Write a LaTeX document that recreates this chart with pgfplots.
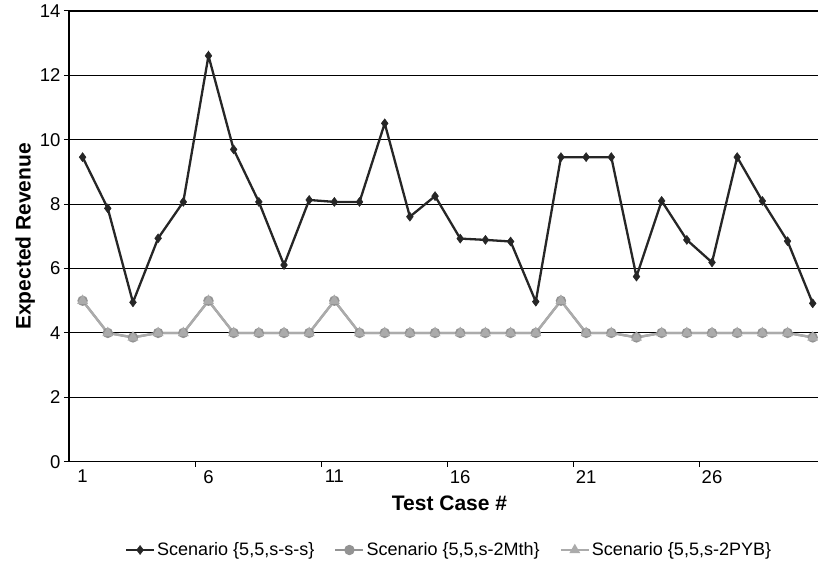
\documentclass[border=0pt]{standalone}
\usepackage{fontspec}
\setmainfont{Liberation Sans}
\usepackage{pgfplots}
\pgfplotsset{compat=1.18}
\definecolor{sone}{HTML}{262626}
\definecolor{stwo}{HTML}{939393}
\definecolor{sthree}{HTML}{ABABAB}
\begin{document}
\begin{tikzpicture}
\begin{axis}[
  at={(69bp,102.3bp)}, anchor=south west,
  scale only axis, width=749bp, height=450.7bp,
  xmin=0.46, xmax=30.21, ymin=0, ymax=14,
  axis x line=bottom, axis y line=left,
  axis line style={-, line width=1.4bp, black},
  xtick={1,6,11,16,21,26},
  minor xtick={5.5,10.5,15.5,20.5,25.5},
  ytick={0,2,...,14},
  tick align=outside,
  major tick length=5bp,
  x tick style={draw=none},
  minor x tick style={draw=black, line width=1bp},
  minor tick length=5bp,
  y tick style={black, line width=1bp},
  ymajorgrids,
  grid style={black, line width=1.1bp},
  tick label style={font=\fontsize{18.5bp}{20bp}\selectfont},
  /pgf/number format/assume math mode=true,
  xlabel={\textbf{Test Case \#}},
  ylabel={\textbf{Expected Revenue}},
  label style={font=\fontsize{21bp}{23bp}\selectfont},
  xlabel style={yshift=-6bp, xshift=6bp},
  ylabel style={yshift=-2bp},
  legend columns=3,
  legend style={at={(380bp,-88.3bp)}, anchor=center, draw=none,
    font=\fontsize{18bp}{20bp}\selectfont,
    /tikz/every even column/.append style={column sep=18bp}},
  legend cell align=left,
  legend image code/.code={\draw[#1] (0bp,0bp) -- (14bp,0bp) plot coordinates {(14bp,0bp)} -- (28bp,0bp);},
  clip=false,
]
\addplot[color=sone, line width=2.3bp, mark=diamond*, mark size=4.5bp, mark options={fill=sone, line width=0.5bp}] coordinates {
(1,9.46) (2,7.87) (3,4.95) (4,6.94) (5,8.07) (6,12.61) (7,9.70) (8,8.07) (9,6.11) (10,8.13)
(11,8.07) (12,8.07) (13,10.51) (14,7.61) (15,8.25) (16,6.93) (17,6.89) (18,6.84) (19,4.97) (20,9.46)
(21,9.46) (22,9.46) (23,5.75) (24,8.10) (25,6.89) (26,6.19) (27,9.46) (28,8.10) (29,6.85) (30,4.92)};
\addlegendentry{Scenario \{5,5,s-s-s\}}
\addplot[color=stwo, line width=2.3bp, mark=*, mark size=4bp, mark options={fill=stwo, draw=stwo}] coordinates {
(1,5) (2,4) (3,3.86) (4,4) (5,4) (6,5) (7,4) (8,4) (9,4) (10,4)
(11,5) (12,4) (13,4) (14,4) (15,4) (16,4) (17,4) (18,4) (19,4) (20,5)
(21,4) (22,4) (23,3.86) (24,4) (25,4) (26,4) (27,4) (28,4) (29,4) (30,3.86)};
\addlegendentry{Scenario \{5,5,s-2Mth\}}
\addplot[color=sthree, line width=2.3bp, mark=triangle*, mark size=4bp, mark options={fill=sthree, draw=sthree}] coordinates {
(1,5) (2,4) (3,3.86) (4,4) (5,4) (6,5) (7,4) (8,4) (9,4) (10,4)
(11,5) (12,4) (13,4) (14,4) (15,4) (16,4) (17,4) (18,4) (19,4) (20,5)
(21,4) (22,4) (23,3.86) (24,4) (25,4) (26,4) (27,4) (28,4) (29,4) (30,3.86)};
\addlegendentry{Scenario \{5,5,s-2PYB\}}
\end{axis}
\pgfresetboundingbox
\path (0,0) rectangle (818bp,564bp);
\end{tikzpicture}
\end{document}
